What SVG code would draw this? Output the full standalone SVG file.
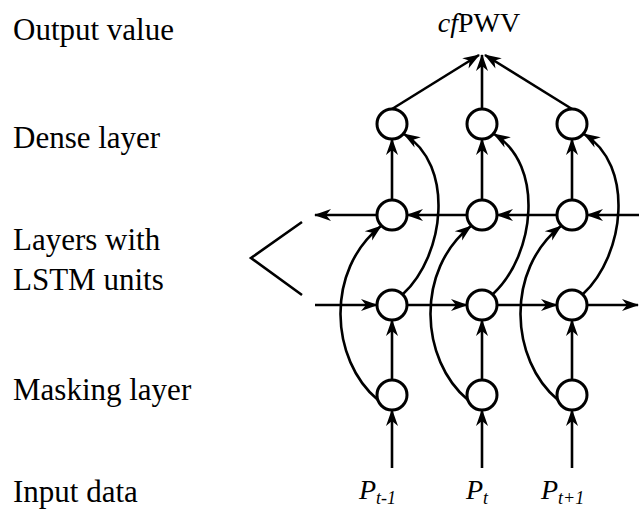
<svg xmlns="http://www.w3.org/2000/svg" width="639" height="513" viewBox="0 0 639 513">
<style>
text{font-family:"Liberation Serif","DejaVu Serif","Noto Serif",serif;fill:#000}
.lbl{font-size:31px}
.math{font-size:28px}
.it{font-style:italic}
.sub{font-size:18px;font-style:italic}
.node{fill:#fff;stroke:#000;stroke-width:3}
.c{fill:none;stroke:#000;stroke-width:2.6;marker-end:url(#ah)}
.p{fill:none;stroke:#000;stroke-width:2.6}
</style>
<defs>
<marker id="ah" markerUnits="userSpaceOnUse" markerWidth="18" markerHeight="12" refX="16" refY="6" orient="auto" overflow="visible">
<path d="M0,0 L17,6 L0,12 L5,6 z" fill="#000"/>
</marker>
</defs>
<rect width="639" height="513" fill="#fff"/>
<g id="labels">
<text class="lbl" x="13" y="40">Output value</text>
<text class="lbl" x="13" y="148">Dense layer</text>
<text class="lbl" x="13" y="250">Layers with</text>
<text class="lbl" x="13" y="290">LSTM units</text>
<text class="lbl" x="13" y="400">Masking layer</text>
<text class="lbl" x="13" y="502">Input data</text>
<path class="p" d="M302,222 L251,258 L302,295"/>
</g>
<g id="connectors">
<line class="c" x1="392" y1="468" x2="392" y2="410"/>
<line class="c" x1="482" y1="468" x2="482" y2="410"/>
<line class="c" x1="572" y1="468" x2="572" y2="410"/>
<line class="c" x1="392" y1="380" x2="392" y2="320"/>
<line class="c" x1="482" y1="380" x2="482" y2="320"/>
<line class="c" x1="572" y1="380" x2="572" y2="320"/>
<line class="c" x1="392" y1="200" x2="392" y2="139"/>
<line class="c" x1="482" y1="200" x2="482" y2="139"/>
<line class="c" x1="572" y1="200" x2="572" y2="139"/>
<line class="c" x1="392" y1="109" x2="479" y2="55"/>
<line class="c" x1="482" y1="109" x2="482" y2="55"/>
<line class="c" x1="572" y1="109" x2="485" y2="55"/>
<line class="c" x1="639" y1="215" x2="587" y2="215"/>
<line class="c" x1="557" y1="215" x2="497" y2="215"/>
<line class="c" x1="467" y1="215" x2="407" y2="215"/>
<line class="c" x1="377" y1="215" x2="315" y2="215"/>
<line class="c" x1="315" y1="305" x2="377" y2="305"/>
<line class="c" x1="407" y1="305" x2="467" y2="305"/>
<line class="c" x1="497" y1="305" x2="557" y2="305"/>
<line class="c" x1="587" y1="305" x2="638" y2="305"/>
<path class="c" d="M378,400 C330,360 325,270 381,226"/>
<path class="c" d="M468,400 C420,360 415,270 471,226"/>
<path class="c" d="M558,400 C510,360 505,270 561,226"/>
<path class="c" d="M403,294 C445,255 455,165 404,134"/>
<path class="c" d="M493,294 C535,255 545,165 494,134"/>
<path class="c" d="M583,294 C625,255 635,165 584,134"/>
</g>
<g id="dense1"><circle class="node" cx="392" cy="124" r="15"/></g>
<g id="dense2"><circle class="node" cx="482" cy="124" r="15"/></g>
<g id="dense3"><circle class="node" cx="572" cy="124" r="15"/></g>
<g id="lstmB1"><circle class="node" cx="392" cy="215" r="15"/></g>
<g id="lstmB2"><circle class="node" cx="482" cy="215" r="15"/></g>
<g id="lstmB3"><circle class="node" cx="572" cy="215" r="15"/></g>
<g id="lstmF1"><circle class="node" cx="392" cy="305" r="15"/></g>
<g id="lstmF2"><circle class="node" cx="482" cy="305" r="15"/></g>
<g id="lstmF3"><circle class="node" cx="572" cy="305" r="15"/></g>
<g id="mask1"><circle class="node" cx="392" cy="395" r="15"/></g>
<g id="mask2"><circle class="node" cx="482" cy="395" r="15"/></g>
<g id="mask3"><circle class="node" cx="572" cy="395" r="15"/></g>
<g id="output"><text class="math" x="479" y="32" text-anchor="middle"><tspan class="it">cf</tspan>PWV</text></g>
<g id="input1"><text class="math" x="359" y="499"><tspan class="it">P</tspan><tspan class="sub" dy="5">t-1</tspan></text></g>
<g id="input2"><text class="math" x="466" y="499"><tspan class="it">P</tspan><tspan class="sub" dy="5">t</tspan></text></g>
<g id="input3"><text class="math" x="541" y="499"><tspan class="it">P</tspan><tspan class="sub" dy="5">t+1</tspan></text></g>
</svg>
